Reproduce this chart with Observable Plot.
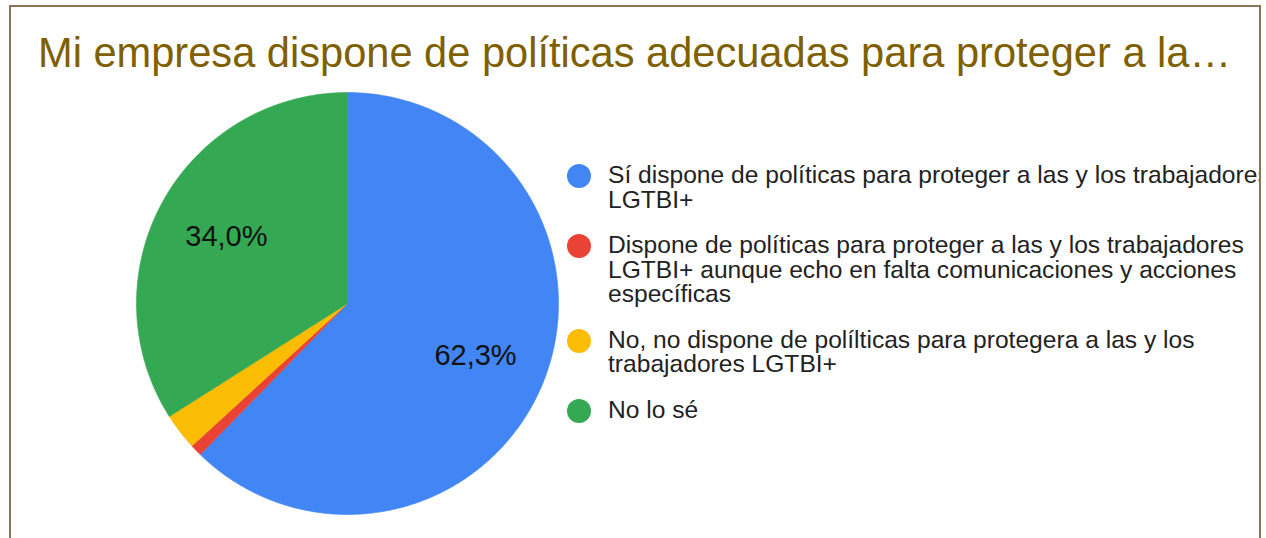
<!DOCTYPE html>
<html>
<head>
<meta charset="utf-8">
<script src="https://cdn.jsdelivr.net/npm/d3@7"></script>
<script src="https://cdn.jsdelivr.net/npm/@observablehq/plot@0.6"></script>
<style>
  html, body { margin: 0; padding: 0; background: #fff; }
  #wrap { position: relative; width: 1266px; height: 538px; overflow: hidden; background: #fff; font-family: "Liberation Sans", Arial, sans-serif; }
  #frame { position: absolute; left: 9px; top: 5px; width: 1248px; height: 600px; border: 2px solid #8b7355; overflow: hidden; }
  #title { position: absolute; left: 27px; top: 22px; font-size: 41.6px; color: #7f6000; white-space: nowrap; }
  #chart { position: absolute; left: -11px; top: -7px; }
  #legend { position: absolute; left: 555px; top: 156px; }
  .item { display: flex; align-items: flex-start; margin-bottom: 21px; }
  .sw { width: 24px; height: 24px; border-radius: 50%; margin-top: 1px; margin-right: 17px; flex: none; margin-left: 1px; }
  .lab { font-size: 24.6px; line-height: 24.5px; color: #222; white-space: nowrap; }
</style>
</head>
<body>
<div id="wrap">
  <div id="frame">
    <div id="chart"></div>
    <div id="title"></div>
    <div id="legend"></div>
  </div>
</div>
<script>
const titleText = "Mi empresa dispone de políticas adecuadas para proteger a la…";
const categories = [
  "Sí dispone de políticas para proteger a las y los trabajadores\nLGTBI+",
  "Dispone de políticas para proteger a las y los trabajadores\nLGTBI+ aunque echo en falta comunicaciones y acciones\nespecíficas",
  "No, no dispone de polílticas para protegera a las y los\ntrabajadores LGTBI+",
  "No lo sé"
];
const values = [62.3, 0.9, 2.8, 34.0];
const colors = ["#4285f4", "#ea4335", "#fbbc04", "#34a853"];

// layout constants (pixels)
const W = 700, H = 538, cx = 347, cy = 303, R = 211;

// compute slice geometry from data
const pie = d3.pie().sort(null).value(d => d.value).startAngle(0).endAngle(2 * Math.PI);
const arcs = pie(categories.map((c, i) => ({cat: c, value: values[i]})));
const poly = [];
arcs.forEach(a => {
  const n = Math.max(2, Math.ceil((a.endAngle - a.startAngle) / (Math.PI / 360)));
  poly.push({cat: a.data.cat, x: 0, y: 0});
  for (let k = 0; k <= n; k++) {
    const t = a.startAngle + (a.endAngle - a.startAngle) * k / n;
    poly.push({cat: a.data.cat, x: Math.sin(t), y: Math.cos(t)});
  }
  poly.push({cat: a.data.cat, x: 0, y: 0});
});
const total = d3.sum(values);
const labels = arcs.filter(a => a.data.value / total > 0.05).map(a => {
  const m = (a.startAngle + a.endAngle) / 2, k = 0.655;
  return {x: k * Math.sin(m), y: k * Math.cos(m), text: a.data.value.toFixed(1).replace(".", ",") + "%"};
});

const plot = Plot.plot({
  width: W, height: H, margin: 0,
  x: {domain: [-cx / R, (W - cx) / R], axis: null},
  y: {domain: [-(H - cy) / R, cy / R], axis: null},
  color: {domain: categories, range: colors},
  marks: [
    Plot.line(poly, {x: "x", y: "y", z: "cat", fill: "cat", stroke: "cat", strokeWidth: 0.6, curve: "linear"}),
    Plot.text(labels, {x: "x", y: "y", text: "text", fontSize: 29, fill: "#111", fontFamily: "Liberation Sans, Arial, sans-serif"})
  ]
});
document.getElementById("chart").appendChild(plot);
document.getElementById("title").textContent = titleText;

const leg = document.getElementById("legend");
categories.forEach((c, i) => {
  const it = document.createElement("div");
  it.className = "item";
  const sw = document.createElement("div");
  sw.className = "sw";
  sw.style.background = colors[i];
  const lab = document.createElement("div");
  lab.className = "lab";
  lab.innerHTML = c.split("\n").map(s => s.replace(/&/g, "&amp;").replace(/</g, "&lt;")).join("<br>");
  it.appendChild(sw);
  it.appendChild(lab);
  leg.appendChild(it);
});
</script>
</body>
</html>
